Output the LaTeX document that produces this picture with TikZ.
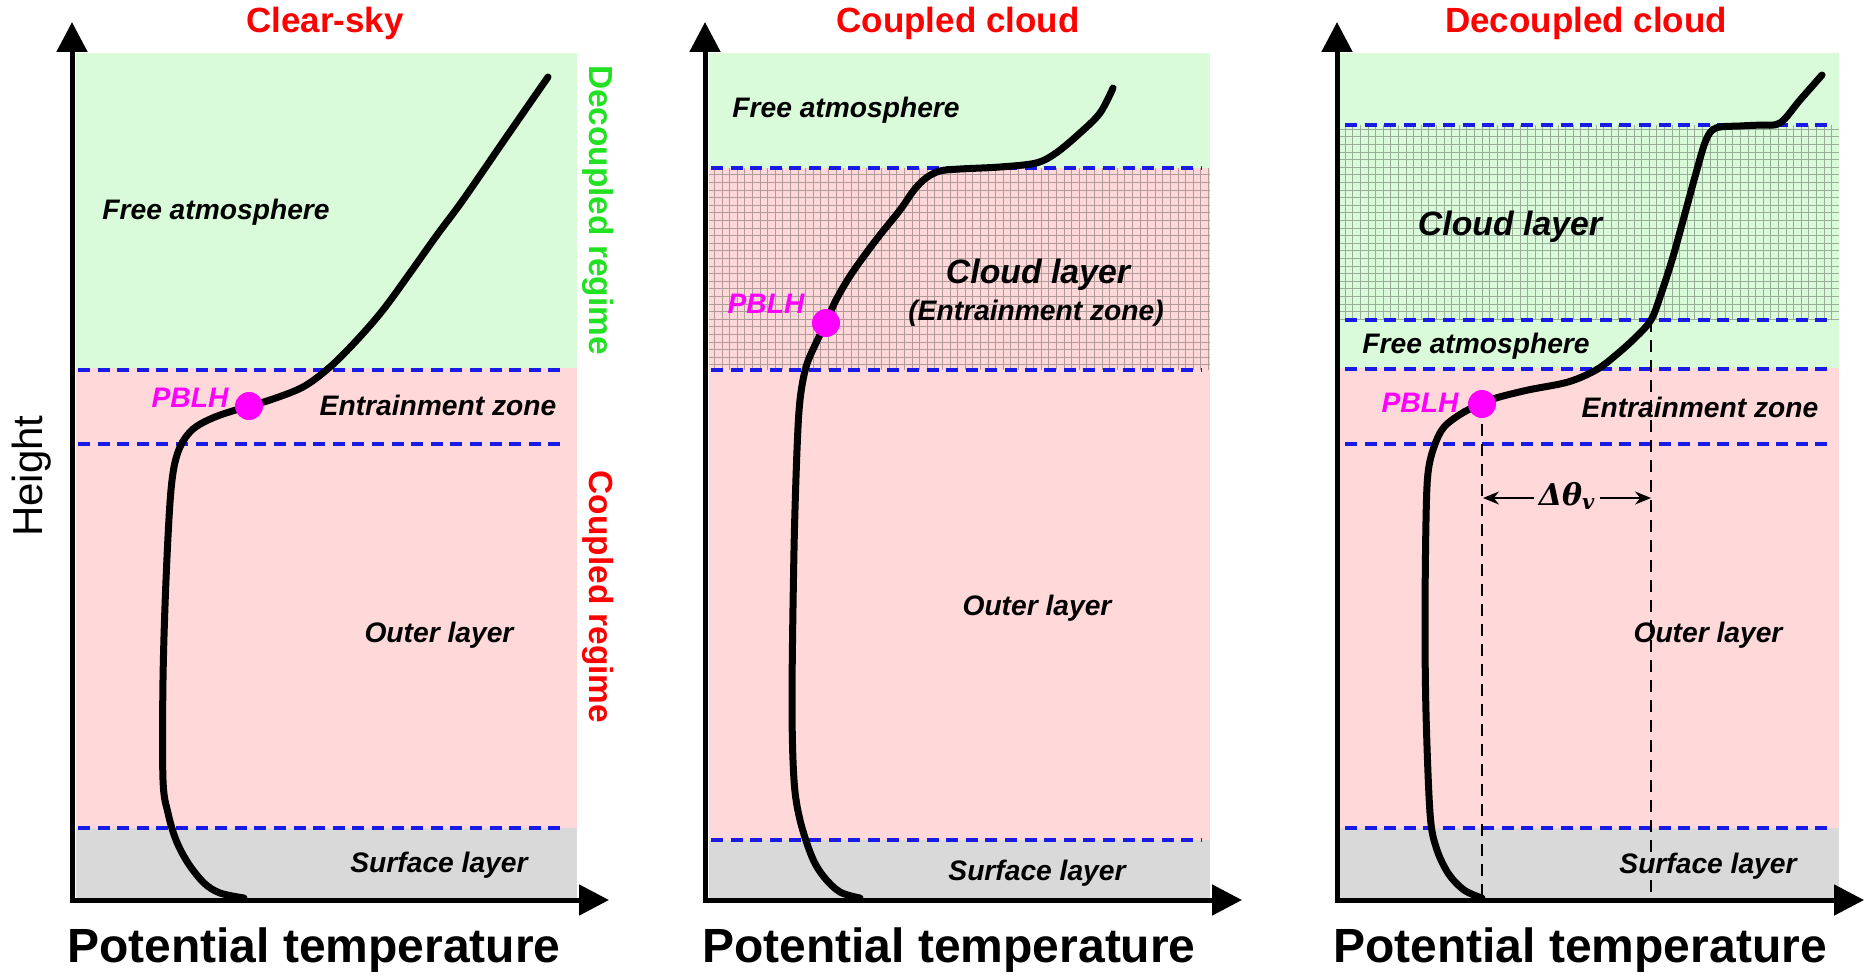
\documentclass[tikz,border=0pt]{standalone}
\usepackage{fontspec}
\setmainfont{Liberation Sans}
\newfontfamily\mathlikefont{DejaVu Serif}
\usetikzlibrary{arrows.meta}

\begin{document}
\begin{tikzpicture}[x=0.5pt,y=-0.5pt,
    axis/.style={line width=2.5pt,{Triangle[length=15pt,width=15pt]}-{Triangle[length=15pt,width=15pt]}},
    layerline/.style={draw=lineblue,line width=2pt,dash pattern=on 6pt off 3.8pt},
    guide/.style={line width=1pt,dash pattern=on 6pt off 4pt},
    profile/.style={line width=3.5pt,line cap=round,line join=round},
    layertext/.style={anchor=base,inner sep=0pt,font=\fontsize{14.1}{16}\selectfont\bfseries\itshape},
    cloudtext/.style={layertext,font=\fontsize{16.9}{19}\selectfont\bfseries\itshape},
    paneltitle/.style={anchor=base,inner sep=0pt,text=titlered,font=\fontsize{17.5}{20}\selectfont\bfseries},
    xlabel/.style={anchor=base,inner sep=0pt,font=\fontsize{24}{28}\selectfont\bfseries},
    regime/.style={rotate=-90,inner sep=0pt,font=\fontsize{16.7}{19}\selectfont\bfseries},
    pblhdot/.style={circle,fill=pblhpink,inner sep=0pt,minimum size=14pt},
    ]
    \definecolor{freegreen}{HTML}{D9FBD9}
    \definecolor{pblpink}{HTML}{FFD9D9}
    \definecolor{surfgray}{HTML}{D9D9D9}
    \definecolor{lineblue}{HTML}{1A1AE6}
    \definecolor{titlered}{HTML}{FF0000}
    \definecolor{regimegreen}{HTML}{22E022}
    \definecolor{pblhpink}{HTML}{FF00FF}
    \definecolor{gridred}{HTML}{B09A9A}
    \definecolor{gridgreen}{HTML}{98AE98}
    \useasboundingbox (0,0) rectangle (1866,979);

    % clear-sky
    \fill[freegreen] (76,53) rectangle (577,368);
    \fill[pblpink] (76,368) rectangle (577,828);
    \fill[surfgray] (76,828) rectangle (577,899);
    \foreach \h in {370,444,828} \draw[layerline] (78,\h) -- (566,\h);
    \draw[profile] plot[smooth,tension=0.55] coordinates {(548,77) (505,139) (463,200) (437,235) (410,273) (383,310) (357,340) (330,367) (303,387) (270,400) (249,406) (215,417) (192,430) (178,452) (171,490) (166,580) (163,680) (163,780) (168,813) (176,840) (188,863) (204,883) (220,893) (244,898)};
    \node[pblhdot] (dot1) at (249,406) {};
    \node[paneltitle] (title1) at (325,33) {Clear-sky};
    \node[layertext] (free1) at (216,219) {Free atmosphere};
    \node[layertext] (entr1) at (438,415) {Entrainment zone};
    \node[layertext] (outer1) at (439,642) {Outer layer};
    \node[layertext] (surf1) at (439,872) {Surface layer};
    \node[layertext,text=pblhpink] (pblh1) at (190,407) {PBLH};
    \node[regime,text=regimegreen] (decoupled) at (598,210) {Decoupled regime};
    \node[regime,text=titlered] (coupled) at (598,597) {Coupled regime};
    \node[rotate=90,font=\fontsize{21}{24}\selectfont] (height) at (32,476) {Height};
    \node[xlabel] (theta1) at (314,962) {Potential temperature};
    \draw[axis] (72,22) -- (72,900) -- (609,900);

    % coupled cloud
    \fill[freegreen] (709,53) rectangle (1210,168);
    \fill[pblpink] (709,168) rectangle (1210,840);
    \fill[surfgray] (709,840) rectangle (1210,899);
    \draw[gridred,line width=0.5pt,step=3.8pt] (709,370) grid (1210,168);
    \foreach \h in {168,370,840} \draw[layerline] (711,\h) -- (1202,\h);
    \draw[profile] plot[smooth,tension=0.55] coordinates {(1113,88) (1100,113) (1080,133) (1056,153) (1036,163) (1000,167) (960,169) (940,171) (926,178) (914,190) (900,210) (876,240) (852,273) (836,300) (826,323) (816,343) (806,367) (800,400) (797,450) (794,550) (792,700) (794,780) (800,820) (812,857) (824,877) (840,892) (860,898)};
    \node[pblhdot] (dot2) at (826,323) {};
    \node[paneltitle] (title2) at (958,33) {Coupled cloud};
    \node[layertext] (free2) at (846,118) {Free atmosphere};
    \node[cloudtext] (cloud2) at (1038,283) {Cloud layer};
    \node[layertext] (entr2) at (1036,320) {(Entrainment zone)};
    \node[layertext] (outer2) at (1037,615) {Outer layer};
    \node[layertext] (surf2) at (1037,880) {Surface layer};
    \node[layertext,text=pblhpink] (pblh2) at (766,313) {PBLH};
    \node[xlabel] (theta2) at (949,962) {Potential temperature};
    \draw[axis] (705,22) -- (705,900) -- (1242,900);

    % decoupled cloud
    \fill[freegreen] (1340,53) rectangle (1839,368);
    \fill[pblpink] (1340,368) rectangle (1839,828);
    \fill[surfgray] (1340,828) rectangle (1839,899);
    \draw[gridgreen,line width=0.5pt,step=3.8pt] (1340,320) grid (1839,125);
    \foreach \h in {125,320,369,444,828} \draw[layerline] (1345,\h) -- (1828,\h);
    \node[paneltitle] (title3) at (1586,33) {Decoupled cloud};
    \node[cloudtext] (cloud3) at (1510,235) {Cloud layer};
    \node[layertext] (free3) at (1476,353) {Free atmosphere};
    \node[layertext] (entr3) at (1700,417) {Entrainment zone};
    \node[layertext] (outer3) at (1708,642) {Outer layer};
    \node[layertext] (surf3) at (1708,873) {Surface layer};
    \node[layertext,text=pblhpink] (pblh3) at (1420,412) {PBLH};
    \node[xlabel] (theta3) at (1580,962) {Potential temperature};
    \coordinate (top3) at (1651,320);
    \coordinate (foot3l) at (1482,899);
    \coordinate (foot3r) at (1651,899);
    \draw[guide] (1482,404) -- (foot3l);
    \draw[guide] (top3) -- (foot3r);
    \draw[profile] plot[smooth,tension=0.55] coordinates {(1822,75) (1800,100) (1780,123) (1760,125) (1740,126) (1716,128) (1706,140) (1696,173) (1684,217) (1672,260) (1660,297) (1651,320) (1636,337) (1616,355) (1596,370) (1568,382) (1528,390) (1496,398) (1482,404) (1464,412) (1444,427) (1434,447) (1428,473) (1426,520) (1425,620) (1426,713) (1430,813) (1436,847) (1448,873) (1464,890) (1482,898)};
    \node[pblhdot] (dot3) at (1482,404) {};
    \node[inner sep=2pt,font=\fontsize{15}{17}\selectfont\mathlikefont\bfseries\itshape] (dtheta) at (1567,496) {Δθ\textsubscript{v}};
    \coordinate (dl) at (1483,498);
    \coordinate (dr) at (1651,498);
    \draw[line width=1pt,-{Stealth[length=8pt,width=6.5pt]}] (dtheta.west |- dl) -- (dl);
    \draw[line width=1pt,-{Stealth[length=8pt,width=6.5pt]}] (dtheta.east |- dr) -- (dr);
    \draw[axis] (1337,22) -- (1337,900) -- (1864,900);
\end{tikzpicture}
\end{document}
